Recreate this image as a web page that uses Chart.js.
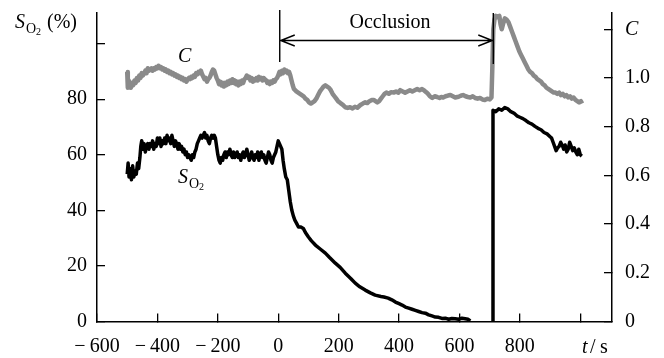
<!DOCTYPE html>
<html>
<head>
<meta charset="utf-8">
<script src="https://cdn.jsdelivr.net/npm/chart.js@4"></script>
<style>
  html, body { margin: 0; padding: 0; background: #fff; }
  #wrap { width: 664px; height: 358px; }
</style>
</head>
<body>
<div id="wrap"><canvas id="chart" width="664" height="358"></canvas></div>
<script>
// time axis ticks (s), left axis S_O2 (%), right axis C
const xTicks = [-600, -400, -200, 0, 200, 400, 600, 800, 1000];
const soTicks = [0, 20, 40, 60, 80, 100];
const cTicks = [0, 0.2, 0.4, 0.6, 0.8, 1.0, 1.2];
const occlusion = [5, 712]; // start / end of occlusion, s

// S_O2 trace (black), % ; null = gap in the record
const soTime = [-500, -497, -494, -490, -486, -482, -478, -474, -470, -466, -462, -458, -455, -452, -448, -444, -440, -436, -432, -428,
  -424, -420, -416, -412, -408, -404, -400, -396, -392, -388, -384, -380, -376, -372, -368, -364, -360, -356, -352, -348,
  -344, -340, -336, -332, -328, -324, -320, -316, -312, -308, -304, -300, -296, -292, -288, -284, -280, -276, -272, -268,
  -264, -260, -256, -252, -248, -244, -240, -236, -232, -228, -224, -220, -216, -212, -208, -204, -200, -196, -192, -188,
  -184, -180, -176, -172, -168, -164, -160, -156, -152, -148, -144, -140, -136, -132, -128, -124, -120, -116, -112, -108,
  -104, -100, -96, -92, -88, -84, -80, -76, -72, -68, -64, -60, -56, -52, -48, -44, -40, -36, -32, -28,
  -24, -20, -16, -12, -8, -4, 0, 4, 8, 12, 16, 20, 25, 30, 35, 40, 45, 50, 55, 60,
  67, 75, 83, 90, 100, 110, 123, 140, 156, 170, 189, 205, 222, 240, 255, 270, 288, 305, 321, 340,
  350, 364, 376, 388, 400, 410, 421, 432, 443, 454, 465, 476, 487, 498, 509, 520, 531, 542, 553, 564,
  575, 586, 597, 608, 619, 628, 636, 670, 708, 711, 720, 730, 740, 750, 760, 770, 780, 790, 800, 810,
  820, 830, 840, 850, 860, 870, 880, 890, 900, 905, 910, 915, 920, 925, 930, 935, 940, 945, 950, 955,
  960, 965, 970, 975, 980, 985, 990, 995, 1000, 1005];
const soValue = [53, 57, 52, 55, 51, 56, 52, 54, 53, 57, 55, 59, 63, 65, 62, 64, 61, 63, 64, 62,
  64, 63, 65, 62, 64, 63, 66, 64, 66, 63, 65, 64, 66, 64, 67, 65, 66, 64, 67, 65,
  63, 65, 64, 62, 64, 62, 63, 61, 62, 60, 61, 59, 60, 59, 58, 60, 59, 61, 62, 64,
  65, 66, 67, 66, 67, 68, 66, 67, 65, 64, 66, 67, 66, 67, 66, 63, 60, 58, 57, 59,
  58, 60, 61, 59, 61, 60, 62, 60, 59, 61, 59, 60, 61, 59, 60, 58, 60, 61, 59, 60,
  62, 60, 58, 59, 61, 59, 58, 60, 59, 61, 58, 60, 61, 59, 60, 58, 57, 59, 61, 60,
  58, 57, 59, 60, 61, 63, 65, 64, 63, 62, 58, 55, 52, 51, 47, 43, 40, 38, 36.5, 35.5,
  34, 34, 33.5, 32, 30.4, 29, 27.5, 26, 24.6, 23, 21, 19.5, 17.4, 15.5, 13.8, 12.5, 11.3, 10.3, 9.5, 9,
  8.8, 8.4, 7.8, 7, 6.4, 5.9, 5.2, 4.8, 4.4, 4, 3.6, 3.2, 3, 2.4, 2, 1.6, 1.5, 1.1, 1.2, 0.8,
  1.1, 1, 0.8, 1.2, 1, 0.8, 0.2, null, 0, 76, 75.5, 76.5, 76, 77, 76.5, 75.5, 75, 74, 73.5, 73,
  72.3, 71.5, 71, 70.2, 69.5, 69, 68, 67.5, 66.5, 66, 64.5, 63, 61.5, 62.5, 63, 64.5, 63.5, 62, 63.5, 61,
  62, 64.5, 63, 61.5, 62.5, 61, 60, 62, 60, 59.5];

// C trace (grey), right axis
const cTime = [-500, -498, -495, -492, -488, -484, -480, -476, -472, -468, -464, -460, -456, -452, -448, -444, -440, -436, -432, -428,
  -424, -420, -416, -412, -408, -404, -400, -396, -392, -388, -384, -380, -376, -372, -368, -364, -360, -356, -352, -348,
  -344, -340, -336, -332, -328, -324, -320, -316, -312, -308, -304, -300, -296, -292, -288, -284, -280, -276, -272, -268,
  -264, -260, -256, -252, -248, -244, -240, -236, -232, -228, -224, -220, -216, -212, -208, -204, -200, -196, -192, -188,
  -184, -180, -176, -172, -168, -164, -160, -156, -152, -148, -144, -140, -136, -132, -128, -124, -120, -116, -112, -108,
  -104, -100, -96, -92, -88, -84, -80, -76, -72, -68, -64, -60, -56, -52, -48, -44, -40, -36, -32, -28,
  -24, -20, -16, -12, -8, -4, 0, 4, 8, 12, 16, 20, 24, 28, 32, 36, 40, 44, 48, 52,
  56, 60, 66, 72, 78, 84, 90, 96, 102, 108, 114, 120, 126, 132, 138, 144, 150, 156, 162, 168,
  174, 180, 186, 192, 198, 206, 214, 222, 230, 238, 246, 254, 262, 272, 280, 288, 295, 302, 310, 316,
  322, 328, 334, 340, 346, 352, 358, 366, 374, 382, 390, 398, 404, 412, 420, 428, 436, 444, 452, 460,
  468, 476, 484, 490, 496, 502, 510, 518, 526, 534, 540, 546, 554, 562, 570, 578, 586, 593, 600, 606,
  612, 620, 628, 636, 644, 652, 660, 668, 676, 684, 692, 700, 706, 709, 712, 716, 720, 726, 732, 736,
  740, 744, 750, 756, 762, 768, 774, 780, 786, 792, 798, 804, 810, 816, 822, 828, 834, 840, 846, 852,
  858, 864, 870, 876, 882, 888, 894, 900, 906, 912, 918, 924, 930, 936, 942, 948, 954, 960, 966, 972,
  978, 984, 990, 996, 1002, 1006];
const cValue = [1.025, 0.96, 0.99, 0.97, 0.96, 0.98, 0.97, 0.99, 0.98, 1.0, 0.99, 1.01, 1.0, 1.02, 1.01, 1.02, 1.03, 1.02, 1.04, 1.03,
  1.035, 1.04, 1.03, 1.04, 1.035, 1.045, 1.04, 1.05, 1.04, 1.045, 1.035, 1.04, 1.03, 1.035, 1.025, 1.03, 1.02, 1.025, 1.015, 1.02,
  1.01, 1.015, 1.005, 1.01, 1.0, 1.005, 0.995, 1.0, 0.99, 0.995, 0.985, 0.995, 1.0, 0.995, 1.005, 1.0, 1.01, 1.005, 1.02, 1.015,
  1.025, 1.02, 1.03, 1.015, 1.005, 0.995, 1.0, 0.985, 0.995, 1.0, 1.01, 1.025, 1.035, 1.03, 1.015, 1.0, 0.99, 0.975, 0.985, 0.97,
  0.98, 0.965, 0.98, 0.97, 0.985, 0.975, 0.99, 0.98, 0.995, 0.98, 0.99, 0.975, 0.985, 0.97, 0.985, 0.975, 0.99, 0.98, 0.995, 1.0,
  1.01, 1.0, 1.005, 0.99, 1.0, 0.985, 0.995, 0.99, 1.0, 0.99, 1.005, 0.995, 1.0, 0.99, 1.0, 0.995, 0.99, 0.98, 0.985, 0.975,
  0.985, 0.98, 0.99, 0.985, 0.995, 1.0, 1.01, 1.025, 1.015, 1.03, 1.02, 1.035, 1.025, 1.03, 1.02, 1.025, 1.01, 0.99, 0.97, 0.955,
  0.95, 0.945, 0.94, 0.935, 0.93, 0.925, 0.915, 0.91, 0.9, 0.895, 0.9, 0.905, 0.915, 0.93, 0.945, 0.955, 0.965, 0.97, 0.965, 0.96,
  0.95, 0.935, 0.925, 0.915, 0.905, 0.897, 0.89, 0.88, 0.877, 0.88, 0.875, 0.882, 0.878, 0.889, 0.895, 0.9, 0.897, 0.905, 0.91, 0.91,
  0.905, 0.9, 0.905, 0.915, 0.925, 0.935, 0.94, 0.935, 0.942, 0.94, 0.945, 0.94, 0.95, 0.945, 0.94, 0.945, 0.95, 0.945, 0.95, 0.955,
  0.95, 0.955, 0.948, 0.942, 0.935, 0.925, 0.918, 0.925, 0.922, 0.918, 0.922, 0.92, 0.925, 0.928, 0.93, 0.925, 0.92, 0.922, 0.925, 0.928,
  0.93, 0.925, 0.922, 0.92, 0.925, 0.918, 0.915, 0.918, 0.912, 0.91, 0.915, 0.912, 0.92, 1.05, 1.2, 1.24, 1.255, 1.25, 1.255, 1.22,
  1.2, 1.22, 1.245, 1.24, 1.23, 1.21, 1.19, 1.17, 1.15, 1.13, 1.11, 1.095, 1.08, 1.065, 1.05, 1.035, 1.025, 1.02, 1.01, 1.005,
  0.995, 0.99, 0.985, 0.975, 0.97, 0.96, 0.955, 0.95, 0.945, 0.94, 0.94, 0.935, 0.94, 0.93, 0.935, 0.925, 0.93, 0.92, 0.925, 0.915,
  0.92, 0.91, 0.905, 0.9, 0.905, 0.895];

const serif = '"Liberation Serif", "Times New Roman", serif';

function toPoints(xs, ys) {
  return xs.map((t, i) => ({ x: t, y: ys[i] }));
}

function fixedTicks(values) {
  return scale => { scale.ticks = values.map(v => ({ value: v })); };
}

// keep the label margins from pushing the plot area in
function noMargins(scale) {
  scale.paddingTop = 0;
  scale.paddingBottom = 0;
  scale.paddingLeft = 0;
  scale.paddingRight = 0;
}

// S with an O2 subscript, as in the paper
function drawSO2(ctx, x, y) {
  ctx.font = 'italic 20px ' + serif;
  ctx.fillText('S', x, y);
  ctx.font = '14px ' + serif;
  ctx.fillText('O', x + 11, y + 5);
  ctx.font = '10px ' + serif;
  ctx.fillText('2', x + 21, y + 7);
}

const annotate = {
  id: 'annotate',
  afterDraw(chart) {
    const ctx = chart.ctx;
    const xs = chart.scales.x;
    const x0 = xs.getPixelForValue(occlusion[0]);
    const x1 = xs.getPixelForValue(occlusion[1]);
    ctx.save();
    ctx.strokeStyle = '#000';
    ctx.fillStyle = '#000';
    ctx.lineWidth = 1.4;
    ctx.beginPath();
    ctx.moveTo(x0, 10); ctx.lineTo(x0, 62);
    ctx.moveTo(x1, 13); ctx.lineTo(x1, 64);
    ctx.moveTo(x0, 40.5); ctx.lineTo(x1, 40.5);
    ctx.moveTo(x0 + 15, 35); ctx.lineTo(x0 + 1, 40.5); ctx.lineTo(x0 + 15, 46);
    ctx.moveTo(x1 - 15, 35); ctx.lineTo(x1 - 1, 40.5); ctx.lineTo(x1 - 15, 46);
    ctx.stroke();

    ctx.textBaseline = 'alphabetic';
    ctx.textAlign = 'center';
    ctx.font = '20px ' + serif;
    ctx.fillText('Occlusion', xs.getPixelForValue(370), 28);

    ctx.textAlign = 'left';
    // left axis title
    drawSO2(ctx, 15, 28);
    ctx.font = '20px ' + serif;
    ctx.fillText('(%)', 47, 28);

    // curve labels
    ctx.font = 'italic 20px ' + serif;
    ctx.fillText('C', 178, 62);
    drawSO2(ctx, 178, 183);

    // x axis unit in place of the 1000 label
    ctx.font = 'italic 20px ' + serif;
    ctx.fillText('t', 582, 353);
    ctx.font = '20px ' + serif;
    ctx.fillText('/', 590, 353);
    ctx.fillText('s', 600, 353);
    ctx.restore();
  }
};

const axisBase = {
  border: { color: '#000', width: 1.5 },
  grid: { drawOnChartArea: false, tickLength: -8, color: '#000', lineWidth: 1.3 },
};

new Chart(document.getElementById('chart'), {
  type: 'line',
  data: {
    datasets: [
      {
        label: 'C',
        data: toPoints(cTime, cValue),
        yAxisID: 'yc',
        borderColor: '#8a8a8a',
        borderWidth: 4.5,
        pointRadius: 0,
        borderJoinStyle: 'round',
        tension: 0,
      },
      {
        label: 'SO2',
        data: toPoints(soTime, soValue),
        yAxisID: 'y',
        borderColor: '#000',
        borderWidth: 3.5,
        pointRadius: 0,
        borderJoinStyle: 'round',
        spanGaps: false,
        tension: 0,
      },
    ],
  },
  options: {
    responsive: false,
    animation: false,
    layout: { padding: { top: 13, left: 0, right: 0, bottom: 0 } },
    plugins: { legend: { display: false }, tooltip: { enabled: false } },
    scales: {
      x: {
        ...axisBase,
        type: 'linear',
        min: -600,
        max: 1105,
        afterBuildTicks: fixedTicks(xTicks),
        afterFit: s => { s.height = 36.5; noMargins(s); },
        ticks: {
          padding: 21,
          color: '#000',
          font: { family: serif, size: 20 },
          maxRotation: 0,
          callback: v => v === 1000 ? '' : (v < 0 ? '\u2212\u2009' + (-v) : String(v)),
        },
      },
      y: {
        ...axisBase,
        position: 'left',
        min: 0,
        max: 111,
        afterBuildTicks: fixedTicks(soTicks),
        afterFit: s => { s.width = 97; noMargins(s); },
        ticks: {
          padding: 18,
          color: '#000',
          font: { family: serif, size: 20 },
          callback: v => v === 100 ? '' : String(v),
        },
      },
      yc: {
        ...axisBase,
        position: 'right',
        min: 0,
        max: 1.267,
        afterBuildTicks: fixedTicks(cTicks),
        afterFit: s => { s.width = 52; noMargins(s); },
        ticks: {
          padding: 21,
          color: '#000',
          font: ctx => ({ family: serif, size: 20, style: ctx.tick && ctx.tick.value > 1.1 ? 'italic' : 'normal' }),
          callback: v => v === 0 ? '0' : (v > 1.1 ? 'C' : v.toFixed(1)),
        },
      },
    },
  },
  plugins: [annotate],
});
</script>
</body>
</html>
